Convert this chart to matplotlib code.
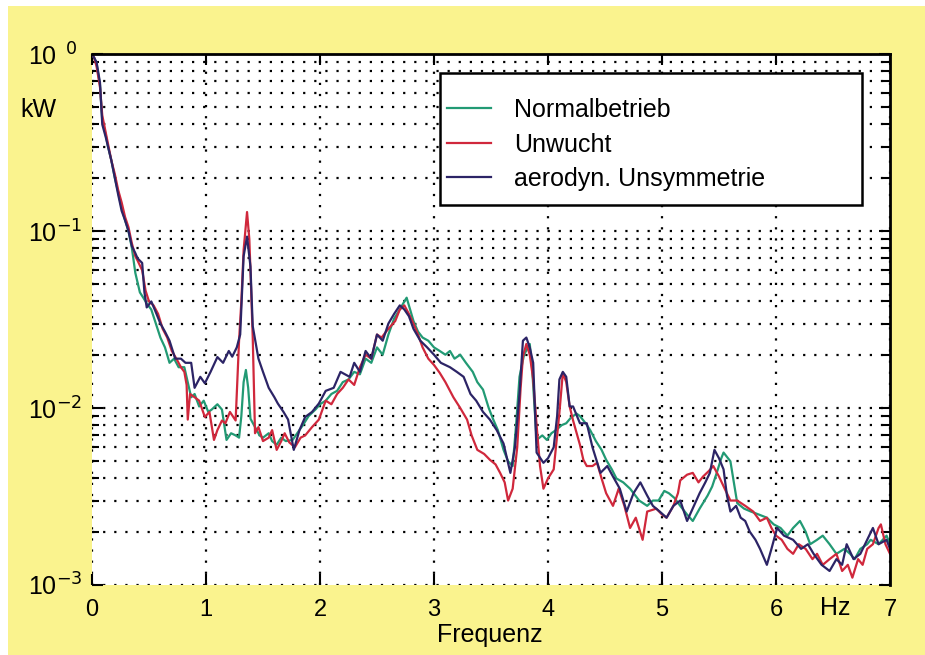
import matplotlib
matplotlib.use("Agg")
import matplotlib.pyplot as plt
from matplotlib.patches import Rectangle
from matplotlib.ticker import FixedLocator, LogLocator, NullFormatter

plt.rcParams['font.family'] = ['Liberation Sans', 'DejaVu Sans']

# Frequenz (Hz) und Leistungsspektrum (kW)
f_norm = [0.0, 0.02, 0.04, 0.07, 0.09, 0.12, 0.14, 0.17, 0.2, 0.23, 0.26, 0.29, 0.32, 0.35, 0.38,
          0.4, 0.42, 0.45, 0.48, 0.52, 0.56, 0.6, 0.64, 0.68, 0.72, 0.76, 0.81, 0.84, 0.87, 0.9,
          0.94, 0.98, 1.02, 1.05, 1.1, 1.14, 1.18, 1.22, 1.26, 1.29, 1.31, 1.33, 1.35, 1.37, 1.39,
          1.43, 1.47, 1.5, 1.55, 1.58, 1.62, 1.66, 1.7, 1.76, 1.8, 1.85, 1.9, 1.96, 2.0, 2.05,
          2.1, 2.15, 2.2, 2.25, 2.3, 2.35, 2.4, 2.45, 2.5, 2.55, 2.6, 2.65, 2.7, 2.73, 2.76,
          2.79, 2.82, 2.86, 2.9, 2.95, 3.0, 3.05, 3.1, 3.14, 3.18, 3.23, 3.28, 3.34, 3.38, 3.43,
          3.48, 3.52, 3.56, 3.61, 3.65, 3.69, 3.72, 3.75, 3.79, 3.84, 3.86, 3.9, 3.95, 3.99, 4.03,
          4.07, 4.12, 4.16, 4.2, 4.25, 4.28, 4.33, 4.37, 4.42, 4.47, 4.51, 4.56, 4.6, 4.66, 4.72,
          4.8, 4.87, 4.92, 4.97, 5.02, 5.06, 5.11, 5.16, 5.22, 5.27, 5.33, 5.4, 5.44, 5.48, 5.52,
          5.54, 5.58, 5.6, 5.63, 5.66, 5.72, 5.78, 5.85, 5.92, 5.98, 6.04, 6.1, 6.15, 6.21, 6.26,
          6.3, 6.36, 6.41, 6.47, 6.53, 6.6, 6.65, 6.69, 6.74, 6.8, 6.83, 6.9, 6.97, 7.0]
p_norm = [1.0, 0.95, 0.88, 0.67, 0.42, 0.35, 0.30, 0.25, 0.2, 0.165, 0.135, 0.115, 0.1, 0.08, 0.058,
          0.051, 0.045, 0.042, 0.039, 0.036, 0.03, 0.025, 0.022, 0.018, 0.019, 0.017, 0.017, 0.014, 0.0115, 0.012,
          0.0102, 0.011, 0.0095, 0.0098, 0.0105, 0.0098, 0.0066, 0.0072, 0.007, 0.0068, 0.009, 0.014, 0.0164, 0.013, 0.0087,
          0.0078, 0.007, 0.0068, 0.0072, 0.0065, 0.0062, 0.0068, 0.0065, 0.0066, 0.0072, 0.008, 0.009, 0.0098, 0.0105, 0.011,
          0.012, 0.0125, 0.014, 0.0145, 0.016, 0.0155, 0.019, 0.018, 0.022, 0.02, 0.026, 0.032, 0.036, 0.039, 0.042,
          0.036, 0.031, 0.027, 0.025, 0.024, 0.022, 0.021, 0.02, 0.021, 0.019, 0.02, 0.018, 0.016, 0.014, 0.0127,
          0.01, 0.0086, 0.0075, 0.0058, 0.005, 0.0047, 0.008, 0.015, 0.02, 0.023, 0.017, 0.0066, 0.007, 0.0066, 0.0072,
          0.0075, 0.008, 0.0082, 0.0088, 0.0093, 0.009, 0.0082, 0.0075, 0.0065, 0.0058, 0.0051, 0.0045, 0.004, 0.0038, 0.0035,
          0.003, 0.0028, 0.003, 0.003, 0.0034, 0.0033, 0.0031, 0.0028, 0.0025, 0.0023, 0.0027, 0.0032, 0.0036, 0.0043, 0.0052,
          0.0056, 0.0052, 0.005, 0.0038, 0.0029, 0.0027, 0.0026, 0.0025, 0.0024, 0.0022, 0.0021, 0.0019, 0.0021, 0.0023, 0.002,
          0.0017, 0.0018, 0.0019, 0.0017, 0.0015, 0.0016, 0.0015, 0.0014, 0.0016, 0.0017, 0.0018, 0.0017, 0.0019, 0.0017]

f_unw = [0.0, 0.02, 0.04, 0.07, 0.09, 0.12, 0.14, 0.17, 0.2, 0.23, 0.26, 0.29, 0.32, 0.35, 0.38,
         0.4, 0.44, 0.47, 0.5, 0.54, 0.58, 0.62, 0.66, 0.7, 0.74, 0.78, 0.81, 0.83, 0.84, 0.86,
         0.9, 0.94, 0.99, 1.03, 1.07, 1.1, 1.14, 1.17, 1.21, 1.26, 1.29, 1.31, 1.33, 1.36, 1.38,
         1.39, 1.41, 1.42, 1.43, 1.46, 1.5, 1.55, 1.58, 1.62, 1.66, 1.69, 1.73, 1.78, 1.83, 1.87,
         1.93, 1.99, 2.05, 2.1, 2.15, 2.2, 2.25, 2.3, 2.35, 2.4, 2.45, 2.5, 2.54, 2.58, 2.62,
         2.66, 2.7, 2.74, 2.78, 2.82, 2.86, 2.9, 2.95, 3.0, 3.05, 3.1, 3.17, 3.23, 3.29, 3.33,
         3.38, 3.44, 3.49, 3.54, 3.58, 3.62, 3.65, 3.69, 3.73, 3.76, 3.78, 3.81, 3.84, 3.87, 3.9,
         3.93, 3.96, 4.0, 4.05, 4.08, 4.1, 4.13, 4.16, 4.19, 4.22, 4.28, 4.31, 4.34, 4.39, 4.43,
         4.47, 4.51, 4.57, 4.62, 4.67, 4.72, 4.77, 4.83, 4.87, 4.95, 5.0, 5.04, 5.1, 5.14, 5.16,
         5.22, 5.27, 5.32, 5.36, 5.41, 5.45, 5.5, 5.55, 5.6, 5.66, 5.73, 5.8, 5.86, 5.92, 5.96,
         6.0, 6.05, 6.1, 6.15, 6.2, 6.26, 6.32, 6.36, 6.41, 6.47, 6.53, 6.58, 6.63, 6.67, 6.72,
         6.76, 6.8, 6.85, 6.9, 6.92, 6.96, 7.0]
p_unw = [1.0, 0.95, 0.85, 0.65, 0.45, 0.36, 0.31, 0.25, 0.21, 0.17, 0.145, 0.12, 0.105, 0.085, 0.072,
         0.068, 0.06, 0.046, 0.04, 0.038, 0.034, 0.028, 0.025, 0.021, 0.019, 0.017, 0.016, 0.0135, 0.0086, 0.012,
         0.0115, 0.011, 0.0089, 0.0095, 0.0066, 0.0075, 0.0085, 0.0082, 0.0095, 0.0085, 0.024, 0.04, 0.078, 0.128, 0.09,
         0.06, 0.025, 0.0138, 0.0072, 0.0078, 0.0065, 0.0068, 0.0075, 0.0058, 0.0065, 0.0072, 0.0064, 0.006, 0.0068, 0.007,
         0.0078, 0.0086, 0.011, 0.0105, 0.012, 0.013, 0.0145, 0.0135, 0.017, 0.02, 0.019, 0.026, 0.025, 0.027, 0.029,
         0.031, 0.036, 0.038, 0.034, 0.03, 0.026, 0.022, 0.019, 0.0175, 0.0158, 0.014, 0.0115, 0.01, 0.0086, 0.007,
         0.0058, 0.0055, 0.0051, 0.0048, 0.0043, 0.0038, 0.003, 0.0035, 0.006, 0.013, 0.0195, 0.023, 0.02, 0.0145, 0.008,
         0.0047, 0.0035, 0.004, 0.0045, 0.007, 0.0094, 0.0158, 0.014, 0.0102, 0.0085, 0.0062, 0.0051, 0.0047, 0.0047, 0.0049,
         0.004, 0.0033, 0.0028, 0.0035, 0.0028, 0.0021, 0.0024, 0.0018, 0.0026, 0.0027, 0.0025, 0.0024, 0.0028, 0.0033, 0.0039,
         0.0042, 0.0043, 0.0038, 0.0041, 0.0044, 0.0047, 0.0041, 0.0035, 0.003, 0.003, 0.0028, 0.0026, 0.0023, 0.0024, 0.0021,
         0.0019, 0.0018, 0.0016, 0.0015, 0.0017, 0.0016, 0.0014, 0.0015, 0.0013, 0.0014, 0.0015, 0.0012, 0.0013, 0.0011, 0.0014,
         0.0013, 0.0016, 0.0017, 0.0021, 0.0022, 0.0017, 0.0015]

f_aero = [0.0, 0.02, 0.04, 0.07, 0.09, 0.12, 0.14, 0.17, 0.2, 0.23, 0.26, 0.29, 0.32, 0.35, 0.38,
          0.4, 0.44, 0.46, 0.48, 0.52, 0.55, 0.6, 0.64, 0.68, 0.73, 0.78, 0.82, 0.87, 0.9, 0.95,
          0.99, 1.04, 1.1, 1.15, 1.2, 1.23, 1.27, 1.3, 1.33, 1.36, 1.39, 1.41, 1.46, 1.5, 1.55,
          1.6, 1.63, 1.68, 1.72, 1.77, 1.82, 1.87, 1.93, 1.99, 2.05, 2.12, 2.18, 2.26, 2.3, 2.35,
          2.4, 2.45, 2.5, 2.55, 2.6, 2.65, 2.7, 2.74, 2.78, 2.82, 2.88, 2.94, 3.0, 3.06, 3.14,
          3.2, 3.26, 3.32, 3.37, 3.43, 3.49, 3.55, 3.61, 3.67, 3.71, 3.75, 3.78, 3.81, 3.84, 3.87,
          3.9, 3.96, 4.0, 4.05, 4.08, 4.1, 4.13, 4.16, 4.19, 4.22, 4.28, 4.34, 4.39, 4.46, 4.52,
          4.57, 4.63, 4.69, 4.75, 4.81, 4.87, 4.92, 4.98, 5.04, 5.1, 5.16, 5.22, 5.28, 5.33, 5.38,
          5.42, 5.46, 5.5, 5.54, 5.57, 5.6, 5.65, 5.69, 5.73, 5.77, 5.82, 5.86, 5.92, 5.96, 6.01,
          6.07, 6.15, 6.22, 6.28, 6.33, 6.4, 6.47, 6.53, 6.58, 6.62, 6.68, 6.74, 6.8, 6.85, 6.9,
          6.97, 7.0]
p_aero = [1.0, 0.95, 0.9, 0.69, 0.40, 0.34, 0.30, 0.25, 0.20, 0.16, 0.13, 0.115, 0.1, 0.082, 0.075,
          0.07, 0.066, 0.045, 0.037, 0.04, 0.036, 0.03, 0.027, 0.024, 0.019, 0.019, 0.018, 0.018, 0.013, 0.015,
          0.0138, 0.016, 0.0194, 0.018, 0.021, 0.0195, 0.022, 0.026, 0.072, 0.093, 0.063, 0.029, 0.019, 0.016, 0.013,
          0.0115, 0.0106, 0.0095, 0.0086, 0.0058, 0.0075, 0.0089, 0.0095, 0.0106, 0.0125, 0.013, 0.016, 0.015, 0.018, 0.016,
          0.021, 0.019, 0.026, 0.024, 0.03, 0.034, 0.038, 0.036, 0.033, 0.028, 0.024, 0.022, 0.02, 0.018, 0.017,
          0.016, 0.015, 0.012, 0.011, 0.0095, 0.0086, 0.0075, 0.0063, 0.0043, 0.006, 0.012, 0.024, 0.025, 0.022, 0.018,
          0.0056, 0.0049, 0.0052, 0.006, 0.009, 0.0145, 0.016, 0.015, 0.0102, 0.0102, 0.0082, 0.0082, 0.006, 0.0043, 0.0047,
          0.0041, 0.0035, 0.0026, 0.0033, 0.0038, 0.0032, 0.0028, 0.0026, 0.0024, 0.0028, 0.003, 0.0023, 0.0028, 0.0033, 0.0038,
          0.0043, 0.0058, 0.0052, 0.0045, 0.0032, 0.0026, 0.0028, 0.0024, 0.0023, 0.002, 0.0018, 0.0016, 0.0013, 0.0016, 0.0021,
          0.0019, 0.0018, 0.0016, 0.0017, 0.0015, 0.0013, 0.0012, 0.0014, 0.0013, 0.0017, 0.0014, 0.0015, 0.0018, 0.0021, 0.0017,
          0.0018, 0.0016]

labels = ['Normalbetrieb', 'Unwucht', 'aerodyn. Unsymmetrie']
colors = ['#229a74', '#d0283c', '#2c2466']
x_ticks = [0, 1, 2, 3, 4, 5, 6, 7]
y_ticks = [1e-3, 1e-2, 1e-1, 1e0]
y_ticklabels = [r'$\mathdefault{10}^{-3}$', r'$\mathdefault{10}^{-2}$',
                r'$\mathdefault{10}^{-1}$', r'$\mathdefault{10}^{\;\;0}$']

fig = plt.figure(figsize=(9.25, 6.55), dpi=100)
fig.patch.set_facecolor('white')
# gelber Hintergrund mit schmalem weissen Rand oben/links
fig.patches.append(Rectangle((8 / 925, 0), 1, 1 - 6 / 655, transform=fig.transFigure,
                             facecolor='#faf38e', edgecolor='none', zorder=-5))

ax = fig.add_axes([92 / 925, 70 / 655, 798 / 925, 531 / 655])
ax.set_facecolor('white')
ax.set_zorder(2)

for fx, py, lab, col in zip([f_norm, f_unw, f_aero], [p_norm, p_unw, p_aero], labels, colors):
    ax.plot(fx, py, color=col, lw=1.6, label=lab, zorder=2)

ax.set_yscale('log')
ax.set_xlim(0, 7)
ax.set_ylim(1e-3, 1e0)
ax.xaxis.set_major_locator(FixedLocator(x_ticks))
ax.set_xticklabels([str(t) for t in x_ticks], fontsize=17)
ax.yaxis.set_major_locator(FixedLocator(y_ticks))
ax.set_yticklabels(y_ticklabels, ha='left')
ax.yaxis.set_minor_locator(LogLocator(base=10, subs=range(2, 10)))
ax.yaxis.set_minor_formatter(NullFormatter())

ax.tick_params(axis='both', which='both', direction='in', top=True, right=True, width=1.5, color='black')
ax.tick_params(axis='x', which='major', length=8, pad=10)
ax.tick_params(axis='y', which='major', length=8, pad=46, labelsize=18)
ax.tick_params(axis='y', which='minor', length=5)

dots = (0, (1, 4))
ax.grid(True, which='major', axis='x', color='black', linestyle=dots, lw=1.6)
ax.grid(True, which='both', axis='y', color='black', linestyle=dots, lw=1.6)
ax.set_axisbelow(True)

for side in ['left', 'bottom']:
    ax.spines[side].set_visible(False)
ax.spines['top'].set_linewidth(2)
ax.spines['right'].set_linewidth(2)

# Legendenrahmen
x0 = (440 - 92) / 798
y0 = (585 - 205) / 531
ax.add_patch(Rectangle((x0, y0), (862 - 440) / 798, (205 - 73) / 531, transform=ax.transAxes,
                       facecolor='white', edgecolor='black', lw=1.8, zorder=3))
leg = ax.legend(loc='upper left', bbox_to_anchor=((447 - 92) / 798, (585 - 98) / 531),
                frameon=False, fontsize=18, handlelength=1.75, handletextpad=0.95,
                labelspacing=0.42, borderpad=0, borderaxespad=0)
leg.set_zorder(4)

fig.text(38 / 925, 1 - 110 / 655, 'kW', fontsize=18, ha='center', va='center')
fig.text(835 / 925, 1 - 608 / 655, 'Hz', fontsize=18, ha='center', va='center')
fig.text(490 / 925, 1 - 635 / 655, 'Frequenz', fontsize=18, ha='center', va='center')

fig.savefig('out.png', dpi=100, facecolor=fig.get_facecolor())
